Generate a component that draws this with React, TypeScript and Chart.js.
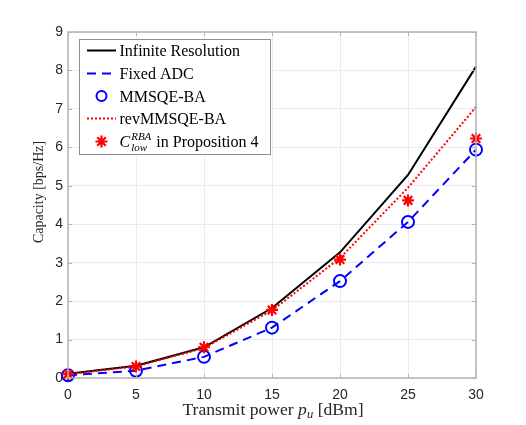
import { useEffect, useRef } from 'react';
import { Chart, registerables } from 'chart.js';

Chart.register(...registerables);

// Transmit power (dBm) and capacity (bps/Hz) for each scheme
const powerDbm = [0, 5, 10, 15, 20, 25, 30];
const infiniteResolution = [0.11, 0.32, 0.8, 1.82, 3.27, 5.28, 8.1];
const fixedAdc = [0.07, 0.19, 0.55, 1.31, 2.52, 4.06, 5.94];
const mmsqeBa = [0.07, 0.19, 0.55, 1.31, 2.52, 4.06, 5.94];
const revMmsqeBa = [0.1, 0.3, 0.78, 1.76, 3.12, 4.95, 7.05];
const cLowRba = [0.1, 0.3, 0.8, 1.77, 3.08, 4.62, 6.23];

const xTicks = [0, 5, 10, 15, 20, 25, 30];
const yTicks = [0, 1, 2, 3, 4, 5, 6, 7, 8, 9];

const SERIF = '"Liberation Serif", "DejaVu Serif", serif';
const SANS = '"Liberation Sans", Arial, sans-serif';
const BLUE = '#0000ff';
const RED = '#ff0000';
const AXIS = '#b3b3b3';

type Run = { text: string; italic?: boolean; size: number; dy?: number };

function runFont(r: Run) {
  return `${r.italic ? 'italic ' : ''}${r.size}px ${SERIF}`;
}

// Draws a sequence of text runs on one baseline, optionally stretched horizontally.
function drawRuns(
  ctx: CanvasRenderingContext2D,
  x: number,
  y: number,
  runs: Run[],
  center: boolean,
  sx = 1,
) {
  let total = 0;
  for (const r of runs) {
    ctx.font = runFont(r);
    total += ctx.measureText(r.text).width;
  }
  ctx.save();
  ctx.translate(center ? x - (total * sx) / 2 : x, y);
  ctx.scale(sx, 1);
  ctx.textBaseline = 'alphabetic';
  ctx.textAlign = 'left';
  let cx = 0;
  for (const r of runs) {
    ctx.font = runFont(r);
    ctx.fillText(r.text, cx, r.dy || 0);
    cx += ctx.measureText(r.text).width;
  }
  ctx.restore();
}

const pts = (ys: number[]) => powerDbm.map((x, i) => ({ x, y: ys[i] }));

const framePlugin = {
  id: 'frame',
  afterDraw(chart: any) {
    const { ctx, chartArea: a, scales } = chart;
    const xs = scales.x;
    const ys = scales.y;
    ctx.save();

    // axes box with inward tick marks
    ctx.strokeStyle = AXIS;
    ctx.lineWidth = 1.5;
    ctx.strokeRect(a.left, a.top, a.right - a.left, a.bottom - a.top);
    ctx.lineWidth = 1;
    ctx.beginPath();
    for (const t of xTicks) {
      const px = Math.round(xs.getPixelForValue(t)) + 0.5;
      ctx.moveTo(px, a.bottom);
      ctx.lineTo(px, a.bottom - 4);
      ctx.moveTo(px, a.top);
      ctx.lineTo(px, a.top + 4);
    }
    for (const t of yTicks) {
      const py = Math.round(ys.getPixelForValue(t)) + 0.5;
      ctx.moveTo(a.left, py);
      ctx.lineTo(a.left + 4, py);
      ctx.moveTo(a.right, py);
      ctx.lineTo(a.right - 4, py);
    }
    ctx.stroke();

    // axis titles
    ctx.fillStyle = '#262626';
    drawRuns(ctx, 273, 415, [
      { text: 'Transmit power ', size: 16 },
      { text: 'p', italic: true, size: 16 },
      { text: 'u', italic: true, size: 11.5, dy: 3 },
      { text: ' [dBm]', size: 16 },
    ], true, 1.1);
    ctx.save();
    ctx.translate(43, 192);
    ctx.rotate(-Math.PI / 2);
    drawRuns(ctx, 0, 0, [{ text: 'Capacity [bps/Hz]', size: 14 }], true);
    ctx.restore();

    // legend
    const lx = 79.5, ly = 39.5, lw = 191, lh = 115;
    ctx.fillStyle = '#ffffff';
    ctx.fillRect(lx, ly, lw, lh);
    ctx.strokeStyle = '#8f8f8f';
    ctx.lineWidth = 1;
    ctx.strokeRect(lx, ly, lw, lh);

    const rows = [50.5, 73.5, 96, 118.5, 141.5];
    const s0 = 87, s1 = 116, sc = 101.5, tx = 119.5;
    ctx.lineWidth = 2;
    // solid black
    ctx.strokeStyle = '#000000';
    ctx.setLineDash([]);
    ctx.beginPath(); ctx.moveTo(s0, rows[0]); ctx.lineTo(s1, rows[0]); ctx.stroke();
    // dashed blue
    ctx.strokeStyle = BLUE;
    ctx.setLineDash([9, 6]);
    ctx.beginPath(); ctx.moveTo(s0, rows[1]); ctx.lineTo(s1, rows[1]); ctx.stroke();
    ctx.setLineDash([]);
    // circle marker
    ctx.beginPath(); ctx.arc(sc, rows[2], 5, 0, Math.PI * 2); ctx.stroke();
    // dotted red
    ctx.strokeStyle = RED;
    ctx.setLineDash([2, 2]);
    ctx.beginPath(); ctx.moveTo(s0, rows[3]); ctx.lineTo(s1, rows[3]); ctx.stroke();
    ctx.setLineDash([]);
    // asterisk marker
    ctx.lineWidth = 2.2;
    ctx.beginPath();
    for (let k = 0; k < 4; k++) {
      const ang = (k * Math.PI) / 4;
      const dx = Math.cos(ang) * 6, dy = Math.sin(ang) * 6;
      ctx.moveTo(sc - dx, rows[4] - dy);
      ctx.lineTo(sc + dx, rows[4] + dy);
    }
    ctx.stroke();

    ctx.fillStyle = '#000000';
    const labels = ['Infinite Resolution', 'Fixed ADC', 'MMSQE-BA', 'revMMSQE-BA'];
    labels.forEach((t, i) => drawRuns(ctx, tx, rows[i] + 5.5, [{ text: t, size: 16 }], false));
    // C_low^RBA in Proposition 4
    const by = rows[4] + 5.5;
    ctx.textAlign = 'left';
    ctx.textBaseline = 'alphabetic';
    ctx.font = runFont({ text: 'C', italic: true, size: 16 });
    ctx.fillText('C', tx, by);
    const cx = tx + ctx.measureText('C').width + 1;
    ctx.font = runFont({ text: '', italic: true, size: 11 });
    ctx.fillText('RBA', cx, by - 7);
    const wSup = ctx.measureText('RBA').width;
    ctx.fillText('low', cx, by + 4);
    const wSub = ctx.measureText('low').width;
    drawRuns(ctx, cx + Math.max(wSup, wSub) + 1, by, [{ text: ' in Proposition 4', size: 16 }], false);

    ctx.restore();
  },
};

export default function App() {
  const ref = useRef<HTMLCanvasElement>(null);

  useEffect(() => {
    if (!ref.current) return;
    const chart = new Chart(ref.current, {
      type: 'line',
      data: {
        datasets: [
          {
            label: 'Infinite Resolution',
            data: pts(infiniteResolution),
            borderColor: '#000000',
            borderWidth: 2,
            pointRadius: 0,
            tension: 0,
            clip: false,
            order: 5,
          },
          {
            label: 'Fixed ADC',
            data: pts(fixedAdc),
            borderColor: BLUE,
            borderWidth: 2,
            borderDash: [9, 6],
            pointRadius: 0,
            tension: 0,
            clip: false,
            order: 4,
          },
          {
            label: 'MMSQE-BA',
            data: pts(mmsqeBa),
            showLine: false,
            pointStyle: 'circle',
            pointRadius: 6,
            pointBorderWidth: 2,
            pointBorderColor: BLUE,
            pointBackgroundColor: 'rgba(0,0,0,0)',
            clip: false,
            order: 3,
          },
          {
            label: 'revMMSQE-BA',
            data: pts(revMmsqeBa),
            borderColor: RED,
            borderWidth: 2,
            borderDash: [2, 2],
            pointRadius: 0,
            tension: 0,
            clip: false,
            order: 2,
          },
          {
            label: 'C_low^RBA in Proposition 4',
            data: pts(cLowRba),
            showLine: false,
            pointStyle: 'star',
            pointRadius: 6,
            pointBorderWidth: 2.2,
            pointBorderColor: RED,
            pointBackgroundColor: RED,
            clip: false,
            order: 1,
          },
        ] as any,
      },
      options: {
        animation: false,
        responsive: false,
        events: [],
        layout: { padding: { top: 32, right: 50, left: 0, bottom: 0 } },
        plugins: { legend: { display: false }, tooltip: { enabled: false } },
        scales: {
          x: {
            type: 'linear',
            min: 0,
            max: 30,
            afterBuildTicks: (s: any) => { s.ticks = xTicks.map((v) => ({ value: v })); },
            afterFit: (s: any) => { s.height = 47; },
            ticks: { color: '#262626', font: { family: SANS, size: 14 }, padding: 9, maxRotation: 0 },
            grid: { color: '#ebebeb', drawTicks: false, lineWidth: 1 },
            border: { display: false },
          },
          y: {
            type: 'linear',
            min: 0,
            max: 9,
            afterBuildTicks: (s: any) => { s.ticks = yTicks.map((v) => ({ value: v })); },
            afterFit: (s: any) => { s.width = 68; },
            ticks: { color: '#262626', font: { family: SANS, size: 14 }, padding: 5 },
            grid: { color: '#ebebeb', drawTicks: false, lineWidth: 1 },
            border: { display: false },
          },
        },
      },
      plugins: [framePlugin],
    });
    return () => chart.destroy();
  }, []);

  return (
    <div style={{ position: 'absolute', left: 0, top: 0, width: 526, height: 425, background: '#ffffff' }}>
      <canvas ref={ref} width={526} height={425} style={{ display: 'block' }} />
    </div>
  );
}
